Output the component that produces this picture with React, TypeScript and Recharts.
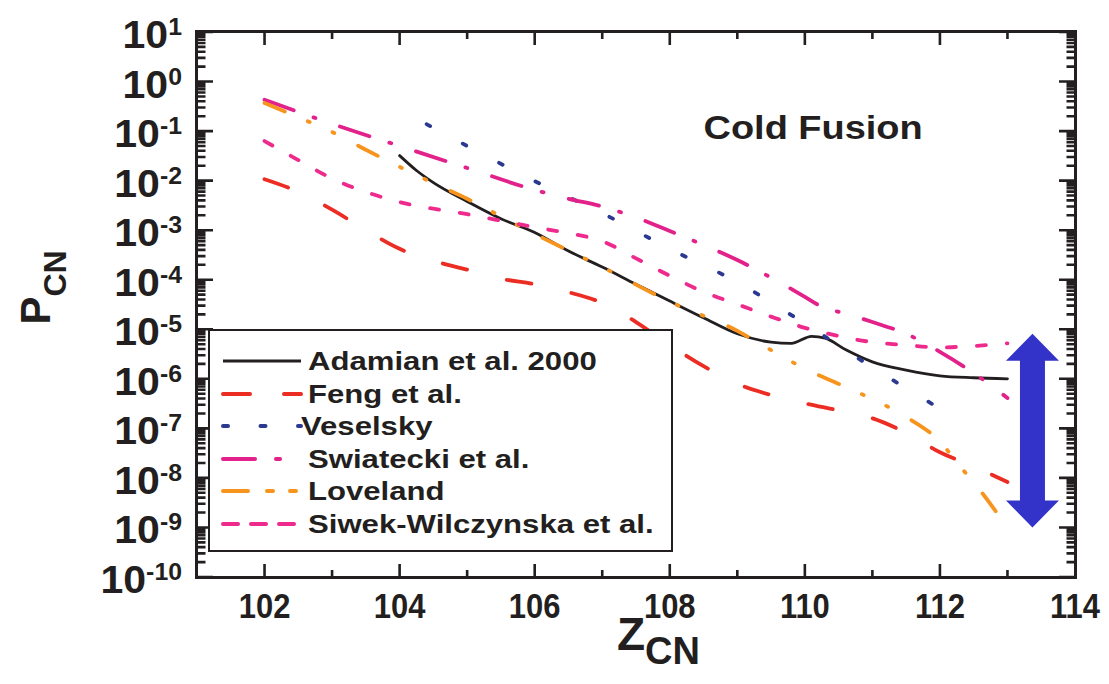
import { LineChart, Line, XAxis, YAxis, Legend, Label, ReferenceLine, ReferenceDot } from "recharts";

const INK = "#231f20";
const SANS = "'Liberation Sans', Arial, Helvetica, sans-serif";
const NARROW = "'Liberation Sans Narrow', 'Liberation Sans', Arial, sans-serif";

// Z_CN of the compound nucleus and the fusion probability P_CN for each model
const adamianZ = [104, 104.25, 104.5, 105, 105.5, 106, 106.5, 107, 107.5, 108, 108.5, 109, 109.5, 109.8, 110.1, 110.3, 110.6, 111, 111.5, 112, 112.5, 113];
const adamianP = [3.2e-2, 1.6e-2, 9.1e-3, 3.8e-3, 1.7e-3, 9e-4, 3.8e-4, 1.8e-4, 8.1e-5, 3.7e-5, 1.7e-5, 8.1e-6, 5.5e-6, 5.2e-6, 7.2e-6, 6.6e-6, 3.9e-6, 2.2e-6, 1.5e-6, 1.15e-6, 1.05e-6, 1.0e-6];

const fengZ = [102, 102.4, 103, 103.5, 104, 104.5, 105, 105.5, 106, 106.5, 107, 107.5, 108, 108.5, 109, 109.5, 110, 110.5, 111, 111.5, 112, 112.5, 113];
const fengP = [1.07e-2, 6.8e-3, 2.6e-3, 1.0e-3, 4.2e-4, 2.4e-4, 1.6e-4, 1.05e-4, 8.1e-5, 5.6e-5, 3.4e-5, 1.4e-5, 4.8e-6, 1.8e-6, 7.9e-7, 4.7e-7, 3.2e-7, 2.3e-7, 1.6e-7, 8.1e-8, 3.3e-8, 1.7e-8, 8.3e-9];

const veselskyZ = [104.4, 105, 106, 107, 108, 109, 110, 111, 112];
const veselskyP = [0.138, 0.05, 9.8e-3, 2.2e-3, 4.2e-4, 8.9e-5, 1.3e-5, 1.7e-6, 2.5e-7];

const swiateckiZ = [102, 103, 104, 105, 106, 106.5, 107, 107.5, 108, 108.5, 109, 109.5, 110, 110.2, 110.7, 111, 111.5, 112, 112.5, 113];
const swiateckiP = [0.43, 0.14, 0.05, 0.018, 6.5e-3, 4.3e-3, 3.0e-3, 1.8e-3, 9.6e-4, 5.0e-4, 2.5e-4, 1.1e-4, 4.5e-5, 3.1e-5, 1.9e-5, 1.4e-5, 8.1e-6, 3.5e-6, 1.3e-6, 4.1e-7];

const lovelandZ = [102, 102.5, 103, 103.5, 104, 104.5, 105, 105.5, 106, 107, 108, 109, 109.5, 110, 110.5, 111, 111.5, 112, 112.3, 112.6, 113];
const lovelandP = [0.37, 0.19, 0.096, 0.042, 0.019, 8.9e-3, 4.3e-3, 1.9e-3, 8.4e-4, 1.8e-4, 3.6e-5, 9.3e-6, 3.8e-6, 1.6e-6, 7.9e-7, 3.9e-7, 1.7e-7, 5.4e-8, 1.7e-8, 5.5e-9, 9.8e-10];

const siwekZ = [102, 102.5, 103, 103.5, 104, 105, 106, 106.5, 107, 107.5, 108, 108.5, 109, 109.5, 110, 110.5, 111, 111.5, 112, 112.5, 113];
const siwekP = [0.063, 0.026, 1.1e-2, 5.9e-3, 3.7e-3, 2.1e-3, 1.15e-3, 8.7e-4, 6.0e-4, 2.7e-4, 1.2e-4, 5.7e-5, 3.2e-5, 1.8e-5, 1.07e-5, 7.3e-6, 5.5e-6, 4.8e-6, 4.3e-6, 4.6e-6, 5.2e-6];

// axis ticks
const zMin = 101;
const zMax = 114;
const zTicks = [102, 103, 104, 105, 106, 107, 108, 109, 110, 111, 112, 113, 114];
const pMin = 1e-10;
const pMax = 10;
const pExponents = [-10, -9, -8, -7, -6, -5, -4, -3, -2, -1, 0, 1];
const pMinor = [2, 3, 4, 5, 6, 7, 8, 9];

// uncertainty arrow at the right edge
const arrowZ = 113.37;
const arrowTop = 8.1e-6;
const arrowBottom = 1.0e-9;

const title = "Cold Fusion";
const titleZ = 108.5;
const titleP = 0.069;

// chart layout
const W = 1109;
const H = 684;
const MARGIN = { top: 32, right: 34, bottom: 47, left: 97 };
const Y_AXIS_W = 100;
const X_AXIS_H = 60;
const PLOT_W = W - MARGIN.left - MARGIN.right - Y_AXIS_W;
const PLOT_H = H - MARGIN.top - MARGIN.bottom - X_AXIS_H;
const FRAME_T = 3.5;

const pTicks: number[] = [];
pExponents.forEach((e) => {
	pTicks.push(Math.pow(10, e));
	if (e < 1) pMinor.forEach((m) => pTicks.push(m * Math.pow(10, e)));
});
const pDecades = pExponents.map((e) => Math.pow(10, e));

const isDecade = (v: number) => Math.abs(Math.log10(v) - Math.round(Math.log10(v))) < 1e-6;

// tick stub lengths in pixels, turned into data units for each axis
const zPerPx = (zMax - zMin) / PLOT_W;
const decadesPerPx = (Math.log10(pMax) - Math.log10(pMin)) / PLOT_H;

type Pt = { z: number; p: number | null };
const leftTicks: Pt[] = [];
const rightTicks: Pt[] = [];
pTicks.forEach((v) => {
	const dz = (isDecade(v) ? 16 : 8.5) * zPerPx;
	leftTicks.push({ z: zMin, p: v }, { z: zMin + dz, p: v }, { z: zMin + dz, p: null });
	rightTicks.push({ z: zMax - dz, p: v }, { z: zMax, p: v }, { z: zMax, p: null });
});
const bottomTicks: Pt[] = [];
const topTicks: Pt[] = [];
zTicks
	.filter((v) => v < zMax)
	.forEach((v) => {
		const f = Math.pow(10, (v % 2 === 0 ? 13 : 7) * decadesPerPx);
		bottomTicks.push({ z: v, p: pMin }, { z: v, p: pMin * f }, { z: v, p: null });
		topTicks.push({ z: v, p: pMax / f }, { z: v, p: pMax }, { z: v, p: null });
	});

const toPoints = (z: number[], p: number[]) => z.map((v, i) => ({ z: v, p: p[i] }));

const series = [
	{ name: "Adamian et al. 2000", data: toPoints(adamianZ, adamianP), color: INK, width: 2.8, dash: undefined, legendDash: undefined, textShift: 0 },
	{ name: "Feng et al.", data: toPoints(fengZ, fengP), color: "#ec2d24", width: 3.8, dash: "25 41", legendDash: "27 34", textShift: 0 },
	{ name: "Veselsky", data: toPoints(veselskyZ, veselskyP), color: "#2b3990", width: 3.8, dash: "4 37", legendDash: "5 32.5", textShift: -7 },
	{ name: "Swiatecki et al.", data: toPoints(swiateckiZ, swiateckiP), color: "#e3218a", width: 3.8, dash: "31 21 2 26", legendDash: "32 21 4 40", textShift: 0 },
	{ name: "Loveland", data: toPoints(lovelandZ, lovelandP), color: "#f7941e", width: 3.8, dash: "22 25 2 25 2 27", legendDash: "25 19 6 17 6 30", textShift: 0 },
	{ name: "Siwek-Wilczynska et al.", data: toPoints(siwekZ, siwekP), color: "#ee2b8d", width: 3.8, dash: "9 21", legendDash: "15 13", textShift: 0 },
];

const tickSets = [
	{ key: "ticks-left", data: leftTicks },
	{ key: "ticks-right", data: rightTicks },
	{ key: "ticks-bottom", data: bottomTicks },
	{ key: "ticks-top", data: topTicks },
];

// decade labels as 10^n
function LeftTick(props: any) {
	const { x, y, payload } = props;
	const v = payload.value as number;
	return (
		<text transform={`translate(${x - 15},${y + 16}) scale(1.08,1)`} textAnchor="end" fontFamily={SANS} fontWeight="bold" fontSize={38} fill={INK}>
			10
			<tspan fontSize={23} dy={-13}>
				{Math.round(Math.log10(v))}
			</tspan>
		</text>
	);
}

function BottomTick(props: any) {
	const { x, y, payload } = props;
	const v = payload.value as number;
	if (v % 2 !== 0) return <g />;
	return (
		<text transform={`translate(${x},${y + 41}) scale(0.86,1)`} textAnchor="middle" fontFamily={NARROW} fontWeight="bold" fontSize={36} fill={INK}>
			{v}
		</text>
	);
}

function ZLabel(props: any) {
	const { viewBox } = props;
	const x = viewBox.x + viewBox.width / 2 - 19;
	const y = viewBox.y + 73;
	return (
		<text x={x} y={y} fontFamily={NARROW} fontWeight="bold" fontSize={46} fill={INK}>
			Z
			<tspan fontSize={38} dy={14}>
				CN
			</tspan>
		</text>
	);
}

function PLabel(props: any) {
	const { viewBox } = props;
	const x = 50;
	const y = viewBox.y + viewBox.height / 2 - 17;
	return (
		<text transform={`translate(${x},${y}) rotate(-90)`} textAnchor="middle" fontFamily={SANS} fontWeight="bold" fontSize={42} fill={INK}>
			P
			<tspan fontSize={32} dy={16}>
				CN
			</tspan>
		</text>
	);
}

function DoubleArrow(props: any) {
	const { x1, y1, y2 } = props;
	const top = Math.min(y1, y2);
	const bottom = Math.max(y1, y2);
	const shaft = 12.5;
	const head = 26.5;
	const headLen = 27;
	const pts = [
		[x1, top],
		[x1 + head, top + headLen],
		[x1 + shaft, top + headLen],
		[x1 + shaft, bottom - headLen],
		[x1 + head, bottom - headLen],
		[x1, bottom],
		[x1 - head, bottom - headLen],
		[x1 - shaft, bottom - headLen],
		[x1 - shaft, top + headLen],
		[x1 - head, top + headLen],
	];
	return <polygon points={pts.map((p) => p.join(",")).join(" ")} fill="#3333c9" />;
}

function TitleText(props: any) {
	const { cx, cy } = props;
	return (
		<text transform={`translate(${cx},${cy}) scale(1.15,1)`} fontFamily={SANS} fontWeight="bold" fontSize={33} fill={INK}>
			{title}
		</text>
	);
}

function LegendBox() {
	return (
		<div
			style={{
				boxSizing: "border-box",
				width: 465,
				height: 223,
				border: `2px solid ${INK}`,
				background: "#fff",
				paddingTop: 14,
			}}
		>
			{series.map((s) => (
				<div key={s.name} style={{ position: "relative", height: 32.6 }}>
					<svg width={82} height={32} style={{ position: "absolute", left: 11, top: 0 }}>
						<line x1={2} x2={80} y1={16} y2={16} stroke={s.color} strokeWidth={s.legendDash ? 4 : 3} strokeDasharray={s.legendDash} strokeLinecap={s.legendDash ? "round" : "butt"} />
					</svg>
					<span
						style={{
							position: "absolute",
							left: 98 + s.textShift,
							top: 0,
							lineHeight: "32px",
							fontFamily: SANS,
							fontWeight: "bold",
							fontSize: 25.5,
							color: INK,
							whiteSpace: "nowrap",
							transform: "scaleX(1.22)",
							transformOrigin: "left center",
						}}
					>
						{s.name}
					</span>
				</div>
			))}
		</div>
	);
}

// plot border as a plain box laid over the plot rectangle
function PlotBorder() {
	return (
		<div
			style={{
				position: "absolute",
				boxSizing: "border-box",
				left: MARGIN.left + Y_AXIS_W - FRAME_T / 2,
				top: MARGIN.top - FRAME_T / 2,
				width: PLOT_W + FRAME_T,
				height: PLOT_H + FRAME_T,
				border: `${FRAME_T}px solid ${INK}`,
				pointerEvents: "none",
				zIndex: 1,
			}}
		/>
	);
}

export default function App() {
	return (
		<div style={{ position: "absolute", left: 0, top: 0, width: W, height: H, background: "#fff" }}>
			<LineChart width={W} height={H} margin={MARGIN}>
				<XAxis
					xAxisId="b"
					dataKey="z"
					type="number"
					domain={[zMin, zMax]}
					ticks={zTicks}
					interval={0}
					height={X_AXIS_H}
					axisLine={false}
					tickLine={false}
					tickSize={0}
					tickMargin={0}
					tick={<BottomTick />}
				>
					<Label content={<ZLabel />} />
				</XAxis>
				<YAxis
					yAxisId="l"
					type="number"
					scale="log"
					domain={[pMin, pMax]}
					ticks={pDecades}
					interval={0}
					width={Y_AXIS_W}
					axisLine={false}
					tickLine={false}
					tickSize={0}
					tickMargin={0}
					tick={<LeftTick />}
				>
					<Label content={<PLabel />} />
				</YAxis>
				{tickSets.map((t) => (
					<Line
						key={t.key}
						name={t.key}
						xAxisId="b"
						yAxisId="l"
						data={t.data}
						dataKey="p"
						type="linear"
						stroke={INK}
						strokeWidth={2.6}
						dot={false}
						activeDot={false}
						legendType="none"
						isAnimationActive={false}
					/>
				))}
				{series.map((s) => (
					<Line
						key={s.name}
						xAxisId="b"
						yAxisId="l"
						data={s.data}
						dataKey="p"
						name={s.name}
						type="monotone"
						stroke={s.color}
						strokeWidth={s.width}
						strokeDasharray={s.dash}
						strokeLinecap="round"
						dot={false}
						activeDot={false}
						isAnimationActive={false}
					/>
				))}
				<ReferenceLine
					xAxisId="b"
					yAxisId="l"
					segment={[
						{ x: arrowZ, y: arrowTop },
						{ x: arrowZ, y: arrowBottom },
					]}
					ifOverflow="visible"
					shape={<DoubleArrow />}
				/>
				<ReferenceDot xAxisId="b" yAxisId="l" x={titleZ} y={titleP} r={0} ifOverflow="visible" shape={<TitleText />} />
				<Legend
					layout="vertical"
					align="center"
					verticalAlign="middle"
					wrapperStyle={{ left: 208, top: 329, width: 465, height: 223, zIndex: 2 }}
					content={() => <LegendBox />}
				/>
			</LineChart>
			<PlotBorder />
		</div>
	);
}
